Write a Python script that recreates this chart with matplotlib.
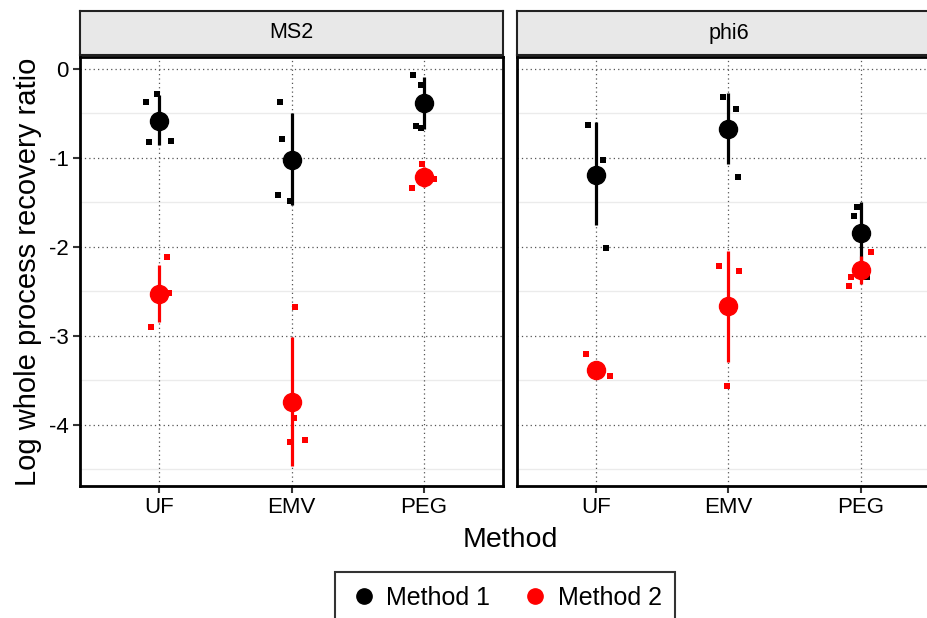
import matplotlib
matplotlib.use('Agg')
import matplotlib.pyplot as plt
from matplotlib.lines import Line2D
import numpy as np

plt.rcParams['font.family'] = ['Liberation Sans', 'DejaVu Sans']
plt.rcParams['axes.unicode_minus'] = False

categories = ['UF', 'EMV', 'PEG']
viruses = ['MS2', 'phi6']
method_names = ['Method 1', 'Method 2']
method_colors = ['black', 'red']

# summary: mean and error bar range per category
ms2_m1_mean = [-0.58, -1.02, -0.38]
ms2_m1_lo = [-0.85, -1.53, -0.67]
ms2_m1_hi = [-0.29, -0.49, -0.09]
ms2_m2_mean = [-2.53, -3.75, -1.21]
ms2_m2_lo = [-2.84, -4.47, -1.33]
ms2_m2_hi = [-2.21, -3.01, -1.10]
phi6_m1_mean = [-1.19, -0.67, -1.85]
phi6_m1_lo = [-1.76, -1.07, -2.20]
phi6_m1_hi = [-0.60, -0.27, -1.50]
phi6_m2_mean = [-3.38, -2.67, -2.26]
phi6_m2_lo = [-3.46, -3.30, -2.42]
phi6_m2_hi = [-3.30, -2.05, -2.10]

# raw replicate values (category index, jitter, value)
ms2_m1_cat = [0, 0, 0, 0, 1, 1, 1, 1, 2, 2, 2, 2]
ms2_m1_jit = [-0.10, -0.02, -0.08, 0.09, -0.09, -0.075, -0.10, -0.01, -0.08, -0.02, -0.06, -0.02]
ms2_m1_val = [-0.37, -0.28, -0.82, -0.81, -0.37, -0.79, -1.42, -1.48, -0.07, -0.18, -0.64, -0.66]
ms2_m2_cat = [0, 0, 0, 1, 1, 1, 1, 2, 2, 2]
ms2_m2_jit = [0.06, 0.07, -0.06, 0.03, 0.02, -0.01, 0.10, -0.015, 0.08, -0.085]
ms2_m2_val = [-2.12, -2.52, -2.90, -2.68, -3.93, -4.20, -4.17, -1.07, -1.24, -1.34]
phi6_m1_cat = [0, 0, 0, 1, 1, 1, 2, 2, 2]
phi6_m1_jit = [-0.06, 0.05, 0.07, -0.045, 0.06, 0.07, -0.03, -0.05, 0.045]
phi6_m1_val = [-0.63, -1.02, -2.01, -0.31, -0.45, -1.22, -1.55, -1.65, -2.34]
phi6_m2_cat = [0, 0, 1, 1, 1, 2, 2, 2]
phi6_m2_jit = [-0.08, 0.10, -0.075, 0.08, -0.015, 0.08, -0.075, -0.09]
phi6_m2_val = [-3.21, -3.45, -2.22, -2.27, -3.56, -2.06, -2.34, -2.44]

panels = {
    'MS2': [
        (ms2_m1_mean, ms2_m1_lo, ms2_m1_hi, ms2_m1_cat, ms2_m1_jit, ms2_m1_val),
        (ms2_m2_mean, ms2_m2_lo, ms2_m2_hi, ms2_m2_cat, ms2_m2_jit, ms2_m2_val),
    ],
    'phi6': [
        (phi6_m1_mean, phi6_m1_lo, phi6_m1_hi, phi6_m1_cat, phi6_m1_jit, phi6_m1_val),
        (phi6_m2_mean, phi6_m2_lo, phi6_m2_hi, phi6_m2_cat, phi6_m2_jit, phi6_m2_val),
    ],
}

W, H = 928, 618
fig = plt.figure(figsize=(W / 100, H / 100), dpi=100)

panel_left = [80, 517]
panel_w = 423
top, bottom = 57, 486
strip_top, strip_bot = 11, 55

for i, virus in enumerate(viruses):
    ax = fig.add_axes([panel_left[i] / W, 1 - bottom / H, panel_w / W, (bottom - top) / H])
    ax.set_xlim(-0.6, 2.6)
    ax.set_ylim(-4.69, 0.135)

    # grid
    for y in [-4.5, -3.5, -2.5, -1.5, -0.5]:
        ax.axhline(y, color='#ebebeb', lw=1.0, zorder=0)
    for y in [0, -1, -2, -3, -4]:
        ax.axhline(y, color='#555555', lw=0.9, ls=(0, (1, 2.5)), zorder=0)
    for x in range(len(categories)):
        ax.axvline(x, color='#555555', lw=0.9, ls=(0, (1, 2.5)), zorder=0)

    for m, (mean, lo, hi, cat, jit, val) in enumerate(panels[virus]):
        c = method_colors[m]
        xs = np.array(cat) + np.array(jit)
        ax.scatter(xs, val, marker='s', s=14, color=c, linewidths=0, zorder=3 + m)
        xc = np.arange(len(categories))
        ax.vlines(xc, lo, hi, color=c, lw=2.3, zorder=3 + m)
        ax.plot(xc, mean, 'o', ms=13, color=c, mec=c, zorder=3 + m)

    ax.set_xticks(range(len(categories)))
    ax.set_xticklabels(categories, fontsize=16)
    ax.set_yticks([0, -1, -2, -3, -4])
    ax.tick_params(axis='both', length=5, width=1.5, color='#333333', pad=3)
    if i == 0:
        ax.set_yticklabels(['0', '-1', '-2', '-3', '-4'], fontsize=16)
    else:
        ax.tick_params(axis='y', left=False, labelleft=False)
    for s in ax.spines.values():
        s.set_linewidth(2)
        s.set_color('black')

    # facet strip
    sax = fig.add_axes([panel_left[i] / W, 1 - strip_bot / H, panel_w / W, (strip_bot - strip_top) / H])
    sax.set_facecolor('#e8e8e8')
    sax.set_xticks([])
    sax.set_yticks([])
    for s in sax.spines.values():
        s.set_linewidth(1.5)
        s.set_color('#222222')
    sax.text(0.5, 0.5, virus, ha='center', va='center', fontsize=15.5, transform=sax.transAxes)

fig.text(28 / W, 1 - 271.5 / H, 'Log whole process recovery ratio', rotation=90,
         ha='center', va='center', fontsize=21)
fig.text(510 / W, 1 - 540 / H, 'Method', ha='center', va='center', fontsize=20.5)

handles = [Line2D([], [], marker='o', ls='', color=c, ms=11) for c in method_colors]
leg = fig.legend(handles, method_names, loc='upper center', ncol=2,
                 bbox_to_anchor=(505 / W, 1 - 572 / H), fontsize=18,
                 frameon=True, fancybox=False, edgecolor='black', borderaxespad=0,
                 handletextpad=0.3, columnspacing=1.2, borderpad=0.55, handlelength=1.2)
leg.get_frame().set_linewidth(1.5)

fig.savefig('out.png', dpi=100)
